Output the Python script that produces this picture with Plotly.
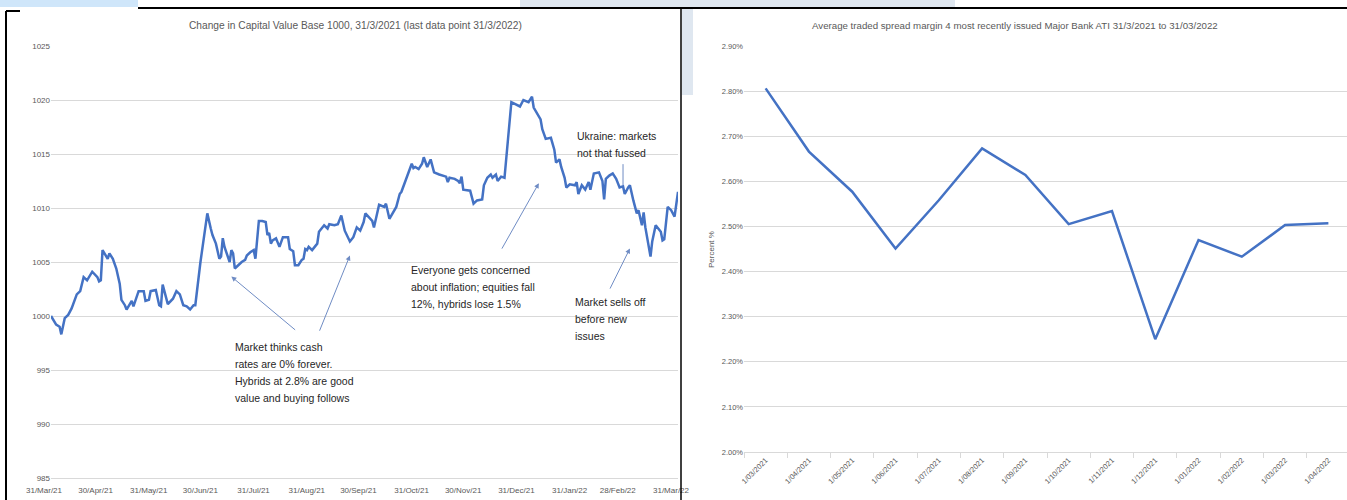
import plotly.graph_objects as go

# ---------------- data: left chart (capital value, base 1000) ----------------
cv_q2_2021 = {
    "2021-03-31": 1000.0, "2021-04-02": 999.4, "2021-04-03": 999.2, "2021-04-05": 999.0,
    "2021-04-06": 998.3, "2021-04-08": 999.8, "2021-04-10": 1000.1, "2021-04-12": 1000.7,
    "2021-04-15": 1002.0, "2021-04-17": 1002.3, "2021-04-19": 1003.6, "2021-04-21": 1003.3,
    "2021-04-22": 1003.6, "2021-04-24": 1004.1, "2021-04-27": 1003.6, "2021-04-28": 1003.2,
    "2021-04-29": 1003.3, "2021-04-30": 1006.1, "2021-05-03": 1005.3, "2021-05-04": 1005.8,
    "2021-05-06": 1005.3, "2021-05-08": 1004.4, "2021-05-10": 1003.0, "2021-05-11": 1001.5,
    "2021-05-13": 1001.0, "2021-05-14": 1000.6, "2021-05-17": 1001.4, "2021-05-18": 1000.9,
    "2021-05-21": 1002.3, "2021-05-24": 1002.3, "2021-05-25": 1001.4, "2021-05-27": 1001.5,
    "2021-05-28": 1002.3, "2021-05-31": 1002.4, "2021-06-02": 1001.0, "2021-06-03": 1000.9,
    "2021-06-04": 1002.9, "2021-06-05": 1002.3, "2021-06-07": 1001.1, "2021-06-10": 1001.6,
    "2021-06-12": 1002.3, "2021-06-14": 1002.0, "2021-06-16": 1001.0, "2021-06-18": 1000.9,
    "2021-06-20": 1000.6, "2021-06-22": 1001.0, "2021-06-23": 1001.0, "2021-06-26": 1005.0,
    "2021-06-28": 1007.3, "2021-06-29": 1008.1, "2021-06-30": 1009.5,
}
cv_q3_2021 = {
    "2021-07-02": 1008.1, "2021-07-03": 1007.5, "2021-07-05": 1006.7, "2021-07-07": 1005.3,
    "2021-07-08": 1005.5, "2021-07-09": 1007.2, "2021-07-10": 1006.4, "2021-07-12": 1005.5,
    "2021-07-13": 1005.0, "2021-07-14": 1006.1, "2021-07-15": 1005.8, "2021-07-16": 1004.4,
    "2021-07-18": 1004.7, "2021-07-20": 1005.0, "2021-07-22": 1005.2, "2021-07-23": 1005.6,
    "2021-07-25": 1005.9, "2021-07-27": 1006.1, "2021-07-28": 1005.3, "2021-07-29": 1007.5,
    "2021-07-30": 1008.8, "2021-08-01": 1008.8, "2021-08-03": 1008.7, "2021-08-04": 1007.5,
    "2021-08-05": 1007.7, "2021-08-06": 1006.7, "2021-08-07": 1007.0, "2021-08-09": 1007.2,
    "2021-08-11": 1006.4, "2021-08-13": 1007.3, "2021-08-16": 1007.3, "2021-08-17": 1006.2,
    "2021-08-19": 1006.0, "2021-08-20": 1004.7, "2021-08-22": 1004.7, "2021-08-24": 1005.2,
    "2021-08-25": 1005.3, "2021-08-26": 1006.2, "2021-08-27": 1006.1, "2021-08-28": 1006.4,
    "2021-08-30": 1006.1, "2021-09-02": 1006.7, "2021-09-03": 1007.8, "2021-09-06": 1008.4,
    "2021-09-08": 1008.1, "2021-09-09": 1008.5, "2021-09-12": 1008.4, "2021-09-14": 1008.5,
    "2021-09-16": 1009.3, "2021-09-18": 1007.9, "2021-09-21": 1006.9, "2021-09-23": 1007.3,
    "2021-09-25": 1008.2, "2021-09-27": 1007.9, "2021-09-29": 1008.7, "2021-09-30": 1009.5,
}
cv_q4_2021 = {
    "2021-10-04": 1008.8, "2021-10-05": 1008.2, "2021-10-08": 1010.3, "2021-10-11": 1010.1,
    "2021-10-12": 1010.4, "2021-10-14": 1009.0, "2021-10-18": 1010.1, "2021-10-20": 1011.3,
    "2021-10-21": 1011.5, "2021-10-24": 1012.8, "2021-10-26": 1013.7, "2021-10-27": 1014.1,
    "2021-10-28": 1013.7, "2021-10-29": 1013.8, "2021-10-31": 1013.6, "2021-11-02": 1014.1,
    "2021-11-03": 1014.7, "2021-11-05": 1013.8, "2021-11-07": 1014.5, "2021-11-09": 1013.3,
    "2021-11-12": 1013.1, "2021-11-15": 1012.9, "2021-11-16": 1012.9, "2021-11-17": 1012.4,
    "2021-11-18": 1012.8, "2021-11-21": 1012.7, "2021-11-23": 1012.5, "2021-11-24": 1012.3,
    "2021-11-25": 1012.9, "2021-11-26": 1011.7, "2021-11-29": 1011.6, "2021-11-30": 1011.6,
    "2021-12-02": 1010.4, "2021-12-04": 1010.7, "2021-12-07": 1010.8, "2021-12-08": 1012.1,
    "2021-12-10": 1012.8, "2021-12-12": 1013.1, "2021-12-13": 1012.8, "2021-12-15": 1013.1,
    "2021-12-16": 1012.5, "2021-12-18": 1012.9, "2021-12-20": 1012.8, "2021-12-21": 1014.4,
    "2021-12-24": 1019.8, "2021-12-29": 1019.4, "2021-12-31": 1020.0,
}
cv_q1_2022 = {
    "2022-01-03": 1019.8, "2022-01-05": 1020.3, "2022-01-06": 1019.3, "2022-01-08": 1018.7,
    "2022-01-10": 1018.2, "2022-01-11": 1017.3, "2022-01-13": 1016.4, "2022-01-16": 1016.5,
    "2022-01-18": 1015.4, "2022-01-19": 1014.2, "2022-01-21": 1014.5, "2022-01-22": 1013.8,
    "2022-01-24": 1012.8, "2022-01-25": 1011.9, "2022-01-27": 1012.2, "2022-01-30": 1012.1,
    "2022-01-31": 1012.4, "2022-02-01": 1011.3, "2022-02-03": 1012.1, "2022-02-05": 1011.7,
    "2022-02-07": 1012.4, "2022-02-08": 1011.7, "2022-02-10": 1013.2, "2022-02-13": 1013.3,
    "2022-02-15": 1012.5, "2022-02-16": 1010.8, "2022-02-17": 1012.7, "2022-02-19": 1013.0,
    "2022-02-21": 1013.2, "2022-02-23": 1012.7, "2022-02-25": 1011.9, "2022-02-27": 1012.0,
    "2022-02-28": 1011.3, "2022-03-02": 1011.9, "2022-03-03": 1012.1, "2022-03-05": 1010.7,
    "2022-03-07": 1009.5, "2022-03-08": 1009.8, "2022-03-10": 1008.4, "2022-03-11": 1009.6,
    "2022-03-12": 1008.2, "2022-03-15": 1005.5, "2022-03-16": 1006.9, "2022-03-18": 1008.4,
    "2022-03-21": 1007.8, "2022-03-22": 1007.0, "2022-03-23": 1007.1, "2022-03-25": 1010.1,
    "2022-03-27": 1009.8, "2022-03-29": 1009.2, "2022-03-31": 1011.5,
}

cv_tick_dates = ["2021-03-31", "2021-04-30", "2021-05-31", "2021-06-30", "2021-07-31",
                 "2021-08-31", "2021-09-30", "2021-10-31", "2021-11-30", "2021-12-31",
                 "2022-01-31", "2022-02-28", "2022-03-31"]
cv_tick_labels = ["31/Mar/21", "30/Apr/21", "31/May/21", "30/Jun/21", "31/Jul/21",
                  "31/Aug/21", "30/Sep/21", "31/Oct/21", "30/Nov/21", "31/Dec/21",
                  "31/Jan/22", "28/Feb/22", "31/Mar/22"]
cv_y_ticks = [985, 990, 995, 1000, 1005, 1010, 1015, 1020, 1025]

# ---------------- data: right chart (traded spread margin, %) ----------------
spread_months = ["1/03/2021", "1/04/2021", "1/05/2021", "1/06/2021", "1/07/2021",
                 "1/08/2021", "1/09/2021", "1/10/2021", "1/11/2021", "1/12/2021",
                 "1/01/2022", "1/02/2022", "1/03/2022", "1/04/2022"]
spread_values = [2.806, 2.666, 2.577, 2.451, 2.558, 2.673, 2.614,
                 2.505, 2.534, 2.250, 2.470, 2.433, 2.503, 2.507]
spread_y_ticks = [2.0, 2.1, 2.2, 2.3, 2.4, 2.5, 2.6, 2.7, 2.8, 2.9]
spread_y_labels = ["2.00%", "2.10%", "2.20%", "2.30%", "2.40%",
                   "2.50%", "2.60%", "2.70%", "2.80%", "2.90%"]

# ---------------- figure ----------------
W, H = 1347, 500
def px(x):
    return x / W
def py(y):
    return 1 - y / H

FONT = "Liberation Sans, Arial, sans-serif"
GRAY = "#595959"
GRID = "#d9d9d9"
BLUE = "#4472C4"

cv = {}
for part in (cv_q2_2021, cv_q3_2021, cv_q4_2021, cv_q1_2022):
    cv.update(part)

fig = go.Figure()
fig.add_trace(go.Scatter(x=list(cv.keys()), y=list(cv.values()), mode="lines",
                         line=dict(color=BLUE, width=2.5), xaxis="x", yaxis="y",
                         showlegend=False))
fig.add_trace(go.Scatter(x=spread_months, y=spread_values, mode="lines",
                         line=dict(color=BLUE, width=2.5), xaxis="x2", yaxis="y2",
                         showlegend=False))

fig.update_layout(
    width=W, height=H, margin=dict(l=0, r=0, t=0, b=0, autoexpand=False),
    paper_bgcolor="white", plot_bgcolor="white", showlegend=False,
    font=dict(family=FONT, color=GRAY, size=8),
    xaxis=dict(type="date", domain=[px(51), px(678)], range=["2021-03-31", "2022-03-31"],
               tickvals=cv_tick_dates, ticktext=cv_tick_labels, showgrid=False,
               zeroline=False, showline=True, linecolor=GRID, linewidth=1, ticks="",
               ticklabelshift=-7, ticklabelstandoff=4, automargin=False,
               tickfont=dict(size=8, color=GRAY), tickangle=0, anchor="y"),
    yaxis=dict(domain=[py(478), py(46)], range=[985, 1025], tickvals=cv_y_ticks,
               showgrid=True, gridcolor=GRID, gridwidth=1, zeroline=False, automargin=False,
               tickfont=dict(size=8, color=GRAY), ticks="", anchor="x"),
    xaxis2=dict(type="category", domain=[px(744), 1.0], range=[-0.5, 13.43],
                tickson="boundaries", ticks="outside", ticklen=5, tickcolor=GRID,
                showgrid=False, zeroline=False, showline=True, linecolor=GRID, automargin=False,
                tickangle=-45, tickfont=dict(size=7.5, color=GRAY), anchor="y2"),
    yaxis2=dict(domain=[py(452), py(46)], range=[2.0, 2.9], tickvals=spread_y_ticks,
                ticktext=spread_y_labels, showgrid=True, gridcolor=GRID, automargin=False,
                zeroline=False, tickfont=dict(size=7.5, color=GRAY), ticks="", anchor="x2"),
)

# ---------------- page decorations ----------------
shapes = [
    dict(type="rect", xref="paper", yref="paper", x0=0, x1=px(138), y0=py(7), y1=1,
         fillcolor="#cfe6fa", line=dict(width=0), layer="below"),
    dict(type="rect", xref="paper", yref="paper", x0=px(520), x1=px(955), y0=py(7), y1=1,
         fillcolor="#dfe7f0", line=dict(width=0), layer="below"),
    dict(type="rect", xref="paper", yref="paper", x0=px(682), x1=px(693), y0=py(95), y1=py(8),
         fillcolor="#dfe7f0", line=dict(width=0), layer="below"),
    dict(type="line", xref="paper", yref="paper", x0=px(138), x1=1, y0=py(8), y1=py(8),
         line=dict(color="black", width=2)),
    dict(type="line", xref="paper", yref="paper", x0=px(681), x1=px(681), y0=0, y1=py(8),
         line=dict(color="black", width=1.5)),
    dict(type="line", xref="paper", yref="paper", x0=px(6), x1=px(6), y0=0, y1=py(11),
         line=dict(color="black", width=2)),
    dict(type="line", xref="paper", yref="paper", x0=px(6), x1=px(20), y0=py(11), y1=py(11),
         line=dict(color="black", width=2)),
]
fig.update_layout(shapes=shapes)

ANN_FONT = dict(family=FONT, size=10.5, color="#262626")
ARROW = "#6f8cc4"

annotations = [
    dict(xref="paper", yref="paper", x=px(355), y=py(25),
         text="Change in Capital Value Base 1000, 31/3/2021 (last data point 31/3/2022)",
         showarrow=False, font=dict(family=FONT, size=10.2, color=GRAY),
         xanchor="center", yanchor="middle"),
    dict(xref="paper", yref="paper", x=px(1015), y=py(25),
         text="Average traded spread margin 4 most recently issued Major Bank ATI 31/3/2021 to 31/03/2022",
         showarrow=False, font=dict(family=FONT, size=9.7, color=GRAY),
         xanchor="center", yanchor="middle"),
    dict(xref="paper", yref="paper", x=px(711), y=py(249), text="Percent %", textangle=-90,
         showarrow=False, font=dict(family=FONT, size=8, color=GRAY),
         xanchor="center", yanchor="middle"),
]

# multi-line comment blocks: (left x px, first-line centre y px, lines)
text_blocks = [
    (233, 347, ["Market thinks cash", "rates are 0% forever.",
                "Hybrids at 2.8% are good", "value and buying follows"]),
    (409, 270, ["Everyone gets concerned", "about inflation; equities fall",
                "12%, hybrids lose 1.5%"]),
    (575, 136, ["Ukraine: markets", "not that fussed"]),
    (573, 302, ["Market sells off", "before new", "issues"]),
]
for x0, y0, lines in text_blocks:
    for i, line in enumerate(lines):
        annotations.append(dict(xref="paper", yref="paper", x=px(x0), y=py(y0 + 17 * i),
                                xanchor="left", yanchor="middle", text=line,
                                showarrow=False, font=ANN_FONT))

arrows = [
    ("2021-07-14", 1003.65, "2021-08-21", 998.6, 2),
    ("2021-09-21", 1005.6, "2021-09-03", 998.5, 2),
    ("2022-01-09", 1012.3, "2021-12-18", 1006.1, 2),
    ("2022-02-27", 1012.1, "2022-02-27", 1014.2, 0),
    ("2022-03-03", 1006.25, "2022-02-19", 1002.4, 2),
]
for hx, hy, tx, ty, head in arrows:
    annotations.append(dict(xref="x", yref="y", axref="x", ayref="y", x=hx, y=hy, ax=tx, ay=ty,
                            text="", showarrow=True, arrowhead=head, arrowsize=1,
                            arrowwidth=1, arrowcolor=ARROW))
fig.update_layout(annotations=annotations)

fig.write_html("out.html")
